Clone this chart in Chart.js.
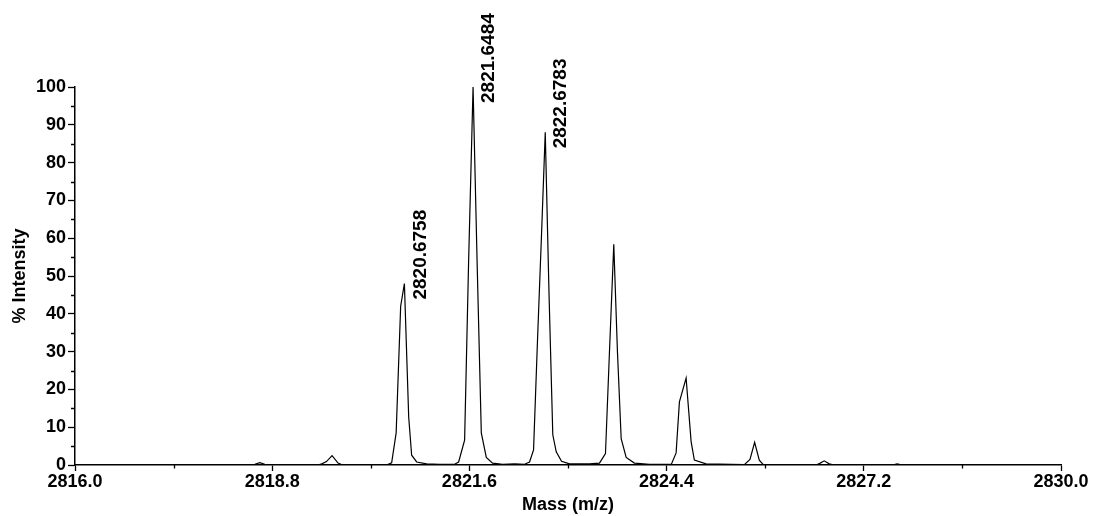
<!DOCTYPE html>
<html><head><meta charset="utf-8">
<script src="https://cdn.jsdelivr.net/npm/chart.js@4.4.1/dist/chart.umd.min.js"></script>
<style>html,body{margin:0;padding:0;background:#fff;}#wrap{width:1093px;height:516px;}</style>
</head><body><div id="wrap"><canvas id="c" width="1093" height="516"></canvas></div>
<script>
const massValues = [2816.000, 2818.482, 2818.553, 2818.624, 2818.695, 2818.766, 2819.447, 2819.504, 2819.570, 2819.650, 2819.735, 2819.801,
  2820.440, 2820.496, 2820.560, 2820.624, 2820.677, 2820.738, 2820.780, 2820.851, 2820.993, 2821.177, 2821.390, 2821.447,
  2821.532, 2821.589, 2821.652, 2821.709, 2821.769, 2821.840, 2821.929, 2822.071, 2822.241, 2822.383, 2822.454, 2822.511,
  2822.567, 2822.624, 2822.677, 2822.731, 2822.784, 2822.833, 2822.908, 2823.021, 2823.305, 2823.447, 2823.532, 2823.589,
  2823.650, 2823.702, 2823.755, 2823.826, 2823.943, 2824.156, 2824.468, 2824.535, 2824.582, 2824.677, 2824.748, 2824.794,
  2824.960, 2825.504, 2825.584, 2825.650, 2825.716, 2825.773, 2826.539, 2826.582, 2826.638, 2826.709, 2826.780, 2827.603,
  2827.674, 2827.745, 2830.000];
const intensityValues = [0, 0, 0.2, 0.6, 0.2, 0, 0, 0.3, 0.9, 2.5, 0.5, 0,
  0.1, 0.6, 8.5, 42, 48, 12.7, 2.6, 0.8, 0.3, 0.2, 0.2, 0.8,
  6.6, 54, 100, 54, 8.5, 2, 0.5, 0.2, 0.3, 0.2, 0.8, 4,
  33, 61, 88, 45, 8, 3.5, 1, 0.3, 0.3, 0.5, 3, 30,
  58.4, 30, 7, 2, 0.5, 0.2, 0.2, 3.2, 16.7, 23, 6.2, 1.3,
  0.3, 0.1, 1.5, 6, 1.3, 0.1, 0.1, 0.5, 1.1, 0.3, 0, 0,
  0.3, 0, 0];
const xTickValues = [2816.0, 2818.8, 2821.6, 2824.4, 2827.2, 2830.0];
const xMinorTicks = [2817.4, 2820.2, 2823.0, 2825.8, 2828.6];
const yTickValues = [0, 10, 20, 30, 40, 50, 60, 70, 80, 90, 100];
const yMinorTicks = [5, 15, 25, 35, 45, 55, 65, 75, 85, 95];
const peakLabels = ['2820.6758', '2821.6484', '2822.6783'];
const peakMasses = [2820.677, 2821.652, 2822.677];
const peakIntensities = [48, 100, 88];

const FONT = "'Liberation Sans', Arial, sans-serif";
const points = massValues.map((m, i) => ({x: m, y: intensityValues[i]}));

const minorTicksPlugin = {
  id: 'minorTicks',
  afterDraw(chart) {
    const ctx = chart.ctx, xs = chart.scales.x, ys = chart.scales.y;
    const ca = chart.chartArea;
    ctx.save();
    ctx.strokeStyle = '#000';
    ctx.lineWidth = 1.3;
    ctx.beginPath();
    xMinorTicks.forEach(v => {
      const px = Math.round(xs.getPixelForValue(v)) + 0.5;
      ctx.moveTo(px, ca.bottom); ctx.lineTo(px, ca.bottom + 3.5);
    });
    yMinorTicks.forEach(v => {
      const py = Math.round(ys.getPixelForValue(v)) + 0.5;
      ctx.moveTo(ca.left, py); ctx.lineTo(ca.left - 4, py);
    });
    ctx.stroke();
    ctx.restore();
  }
};

const peakLabelPlugin = {
  id: 'peakLabels',
  afterDatasetsDraw(chart) {
    const ctx = chart.ctx, xs = chart.scales.x, ys = chart.scales.y;
    ctx.save();
    ctx.fillStyle = '#000';
    ctx.font = "bold 19px " + FONT;
    ctx.textAlign = 'left';
    ctx.textBaseline = 'middle';
    peakLabels.forEach((t, i) => {
      const px = xs.getPixelForValue(peakMasses[i]) + 16;
      const py = ys.getPixelForValue(peakIntensities[i]) + 16;
      ctx.save();
      ctx.translate(px, py);
      ctx.rotate(-Math.PI / 2);
      ctx.fillText(t, 0, 0);
      ctx.restore();
    });
    ctx.restore();
  }
};

new Chart(document.getElementById('c'), {
  type: 'line',
  data: {
    datasets: [{
      data: points,
      borderColor: '#000',
      borderWidth: 1.2,
      pointRadius: 0,
      tension: 0,
      fill: false
    }]
  },
  options: {
    responsive: false,
    animation: false,
    devicePixelRatio: 1,
    layout: {padding: {top: 87, right: 32, left: 0, bottom: 0}},
    plugins: {legend: {display: false}, tooltip: {enabled: false}},
    scales: {
      x: {
        type: 'linear', min: 2816, max: 2830,
        afterBuildTicks: s => { s.ticks = xTickValues.map(v => ({value: v})); },
        afterFit: s => { s.height = 51; },
        ticks: {
          callback: v => Number(v).toFixed(1),
          font: {family: FONT, size: 18, weight: 'bold'},
          color: '#000', padding: 0, maxRotation: 0, autoSkip: false
        },
        grid: {drawOnChartArea: false, tickLength: 6, tickColor: '#000', tickWidth: 1.3},
        border: {color: '#000', width: 1.5},
        title: {display: true, text: 'Mass (m/z)', color: '#000',
          font: {family: FONT, size: 18, weight: 'bold'}, padding: {top: 0, bottom: 0}}
      },
      y: {
        type: 'linear', min: 0, max: 100,
        afterBuildTicks: s => { s.ticks = yTickValues.map(v => ({value: v})); },
        afterFit: s => { s.width = 75; },
        ticks: {
          callback: v => String(v),
          font: {family: FONT, size: 18, weight: 'bold'},
          color: '#000', padding: 2, autoSkip: false
        },
        grid: {drawOnChartArea: false, tickLength: 7, tickColor: '#000', tickWidth: 1.3},
        border: {color: '#000', width: 1.5},
        title: {display: true, text: '% Intensity', color: '#000',
          font: {family: FONT, size: 18, weight: 'bold'}, padding: {top: 9, bottom: 0}}
      }
    }
  },
  plugins: [minorTicksPlugin, peakLabelPlugin]
});
</script>
</body></html>
